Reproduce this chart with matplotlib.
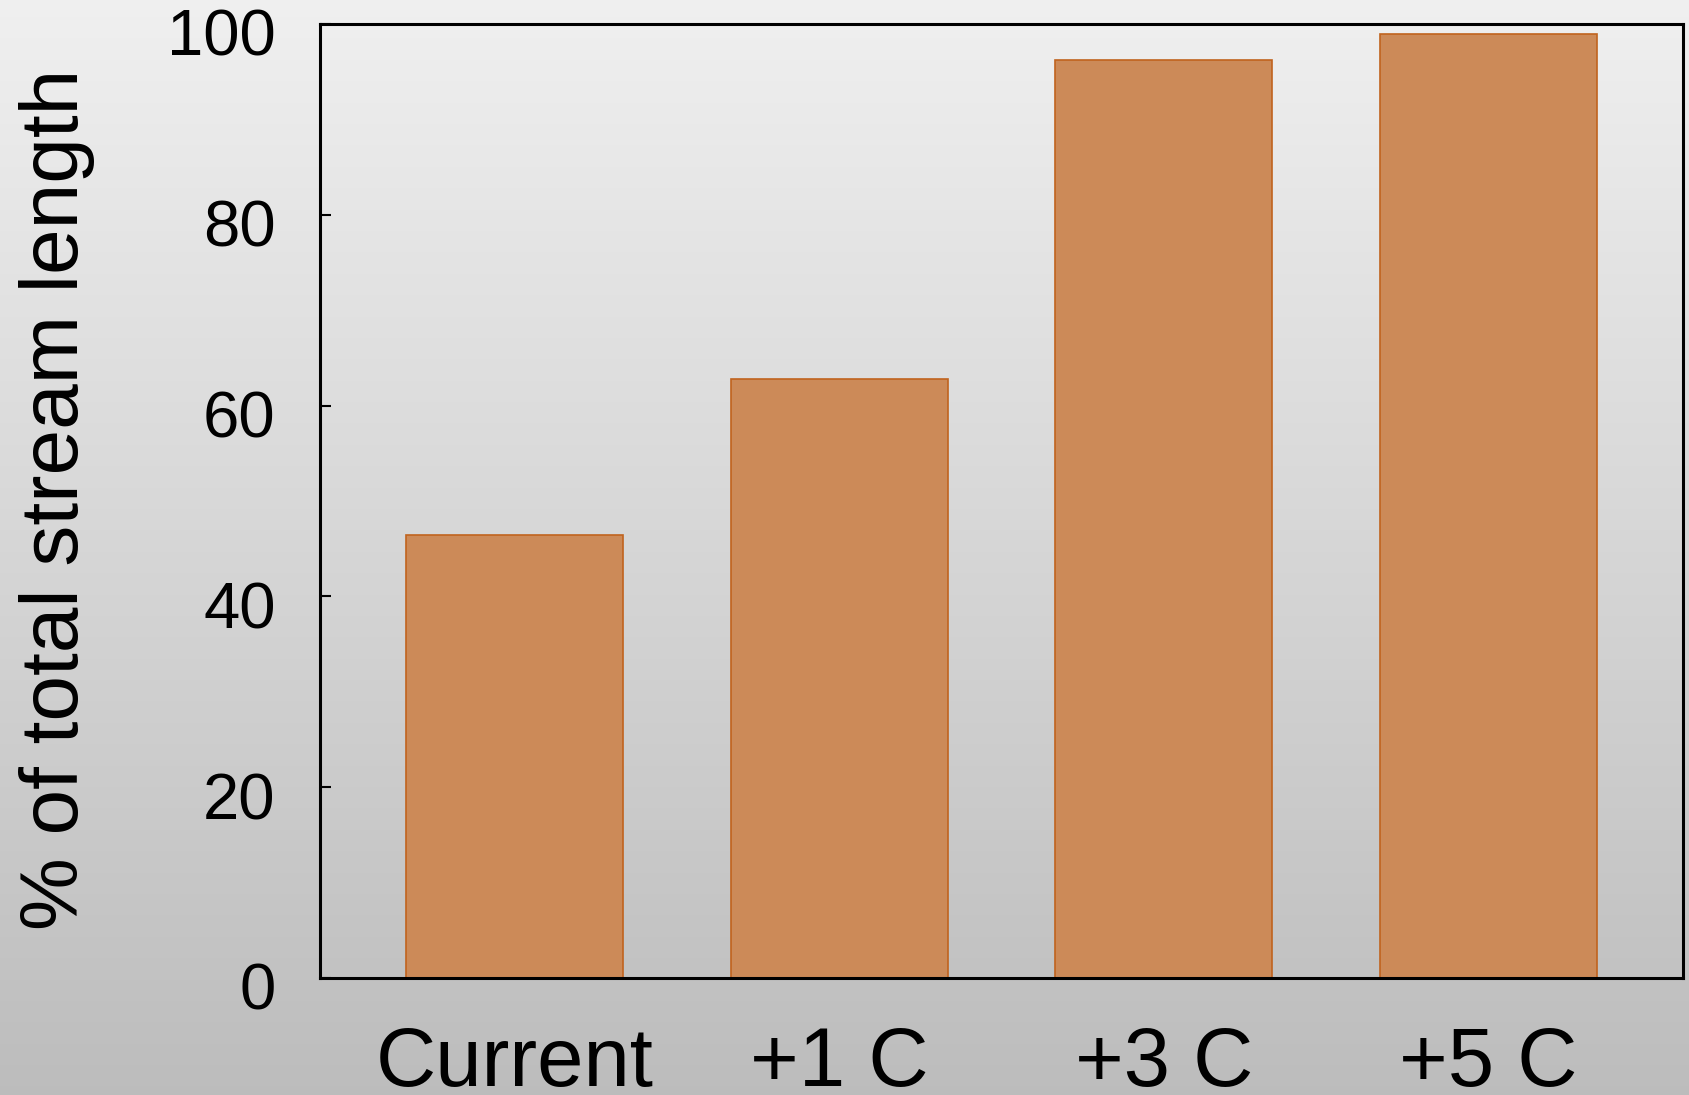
import numpy as np
import matplotlib
matplotlib.use('Agg')
import matplotlib.pyplot as plt
import matplotlib.transforms as mtransforms

categories = ['Current', '+1 C', '+3 C', '+5 C']
values = [46.4, 62.8, 96.2, 98.9]
yticks = [0, 20, 40, 60, 80, 100]

plt.rcParams['font.family'] = ['Liberation Sans', 'DejaVu Sans']

fig = plt.figure(figsize=(16.89, 10.95), dpi=100)

# gradient background for the whole figure
bg = fig.add_axes([0, 0, 1, 1], zorder=-10)
grad = np.linspace(0, 1, 256).reshape(-1, 1)
top = np.array([0.94, 0.94, 0.94])
bot = np.array([0.74, 0.74, 0.74])
img = top + (bot - top) * grad[:, :, None]
bg.imshow(img, aspect='auto', extent=[0, 1, 0, 1])
bg.axis('off')

ax = fig.add_axes([320 / 1689, 1 - 978 / 1095, (1683 - 320) / 1689, (978 - 24) / 1095])
ax.patch.set_visible(False)

x = np.arange(len(categories))
ax.bar(x, values, width=0.67, color='#CC8A58', edgecolor='#C0631E', linewidth=1.2)

ax.set_xlim(-0.6, 3.6)
ax.set_ylim(0, 100)
ax.set_yticks(yticks)
ax.set_xticks(x)
ax.set_xticklabels(categories, fontsize=60)
ax.tick_params(axis='x', length=0, pad=34)
ax.tick_params(axis='y', direction='in', length=8, width=1.5, labelsize=47, pad=32)
for s in ax.spines.values():
    s.set_linewidth(2.2)
    s.set_color('black')

# nudge y tick labels down a little, as in the original
shift = mtransforms.ScaledTranslation(0, -6 / 72, fig.dpi_scale_trans)
for lab in ax.get_yticklabels():
    lab.set_transform(lab.get_transform() + shift)

fig.text(57 / 1689, 1 - 499 / 1095, '% of total stream length', fontsize=59,
         rotation=90, ha='center', va='center')

fig.savefig('out.png', dpi=100)
